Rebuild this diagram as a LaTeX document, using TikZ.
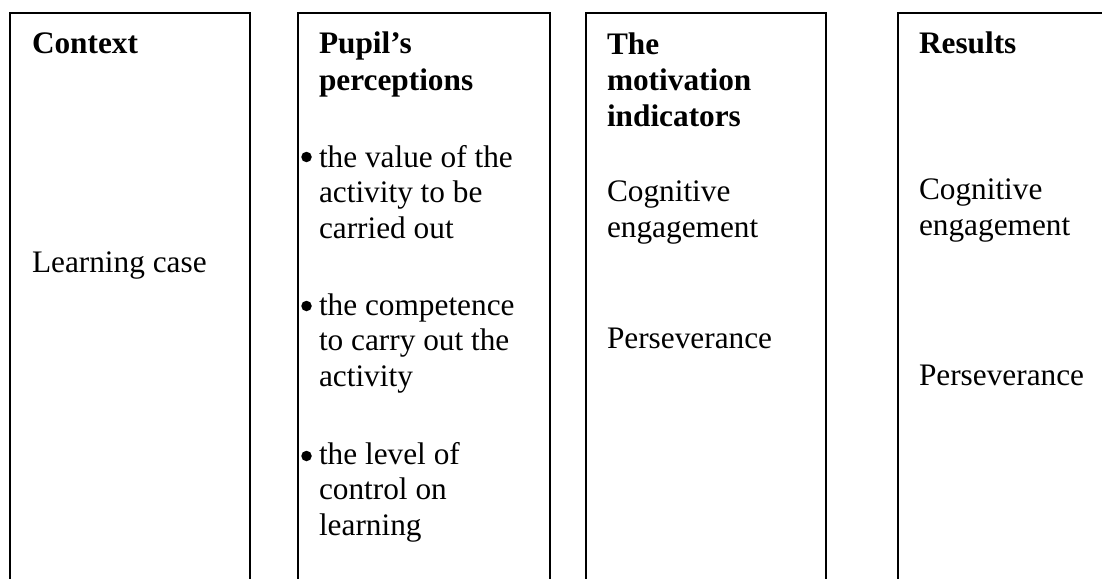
\documentclass[tikz,border=0pt]{standalone}
\usepackage{fontspec}
\setmainfont{Liberation Serif}
\begin{document}
\begin{tikzpicture}[x=1pt,y=-1pt,
  txt/.style={anchor=base west, inner sep=0pt, outer sep=0pt, align=left,
    font=\fontsize{31.3}{35.7}\selectfont},
  hd/.style={txt, font=\fontsize{31.3}{36}\selectfont\bfseries},
  col/.style={line width=1.7pt, draw=black},
  bul/.style={circle, fill=black, inner sep=0pt, minimum size=10.5pt}]
\useasboundingbox (0,0) rectangle (1102,578);
% columns (open at the bottom)
\draw[col] (10,580) -- (10,13) -- (250,13) -- (250,580);
\draw[col] (298,580) -- (298,13) -- (550,13) -- (550,580);
\draw[col] (586,580) -- (586,13) -- (826,13) -- (826,580);
\draw[col] (898,580) -- (898,13) -- (1104,13);
% Context (multi-line nodes are placed at the baseline of their last line)
\node[hd] (ctx) at (32,54) {Context};
\node[txt] (lc) at (32,272) {Learning case};
% Pupil's perceptions
\node[hd] (pp) at (319,90) {Pupil’s\\perceptions};
\node[bul] (b1) at (306.5,157) {};
\node[txt] (p1) at (319,238.4) {the value of the\\activity to be\\carried out};
\node[bul] (b2) at (306.5,306) {};
\node[txt] (p2) at (319,386.4) {the competence\\to carry out the\\activity};
\node[bul] (b3) at (306.5,456) {};
\node[txt] (p3) at (319,535.6) {the level of\\control on\\learning};
% The motivation indicators
\node[hd] (mi) at (607,126) {The\\motivation\\indicators};
\node[txt] (m1) at (607,237) {Cognitive\\engagement};
\node[txt] (m2) at (607,348) {Perseverance};
% Results
\node[hd] (rs) at (919,54) {Results};
\node[txt] (r1) at (919,235) {Cognitive\\engagement};
\node[txt] (r2) at (919,385) {Perseverance};
\end{tikzpicture}
\end{document}
